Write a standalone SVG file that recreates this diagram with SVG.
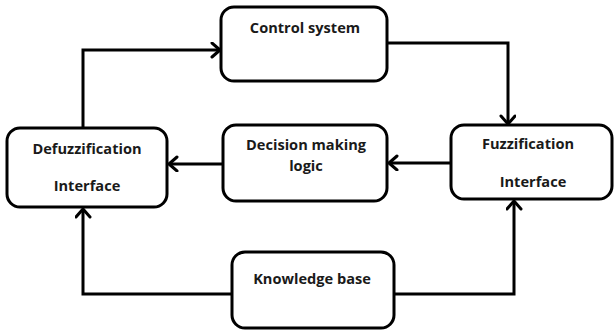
<svg xmlns="http://www.w3.org/2000/svg" width="614" height="331" viewBox="0 0 614 331">
<style>
.box{fill:#fff;stroke:#000;stroke-width:3}
.lbl{font-family:"Open Sans","Liberation Sans",sans-serif;font-weight:bold;font-size:14.6px;fill:#1a1a1a;text-anchor:middle}
.wire{fill:none;stroke:#000;stroke-width:3}
</style>
<defs>
<marker id="arr" markerUnits="userSpaceOnUse" markerWidth="20" markerHeight="20" refX="11" refY="8" orient="auto">
<path d="M3,1 L11,8 L3,15" fill="none" stroke="#000" stroke-width="3" stroke-linecap="round" stroke-linejoin="round"/>
</marker>
</defs>
<rect width="614" height="331" fill="#fff"/>
<g id="connectors">
<path class="wire" d="M83,128 V50 H220" marker-end="url(#arr)"/>
<path class="wire" d="M387,43 H508 V124" marker-end="url(#arr)"/>
<path class="wire" d="M451,163 H389" marker-end="url(#arr)"/>
<path class="wire" d="M223,164 H169" marker-end="url(#arr)"/>
<path class="wire" d="M232,294 H83 V209" marker-end="url(#arr)"/>
<path class="wire" d="M394,294 H514 V201" marker-end="url(#arr)"/>
</g>
<g id="control">
<rect class="box" x="221" y="7" width="166" height="74" rx="13"/>
<text class="lbl" x="305" y="33">Control system</text>
</g>
<g id="defuzz">
<rect class="box" x="7" y="128" width="160" height="79" rx="13"/>
<text class="lbl" x="87" y="154">Defuzzification</text>
<text class="lbl" x="87" y="191">Interface</text>
</g>
<g id="decision">
<rect class="box" x="223" y="125" width="164" height="76" rx="13"/>
<text class="lbl" x="306" y="150">Decision making</text>
<text class="lbl" x="306" y="171">logic</text>
</g>
<g id="fuzz">
<rect class="box" x="451" y="125" width="161" height="74" rx="13"/>
<text class="lbl" x="528" y="149">Fuzzification</text>
<text class="lbl" x="533" y="187">Interface</text>
</g>
<g id="kb">
<rect class="box" x="232" y="252" width="162" height="76" rx="13"/>
<text class="lbl" x="312" y="284">Knowledge base</text>
</g>
</svg>
